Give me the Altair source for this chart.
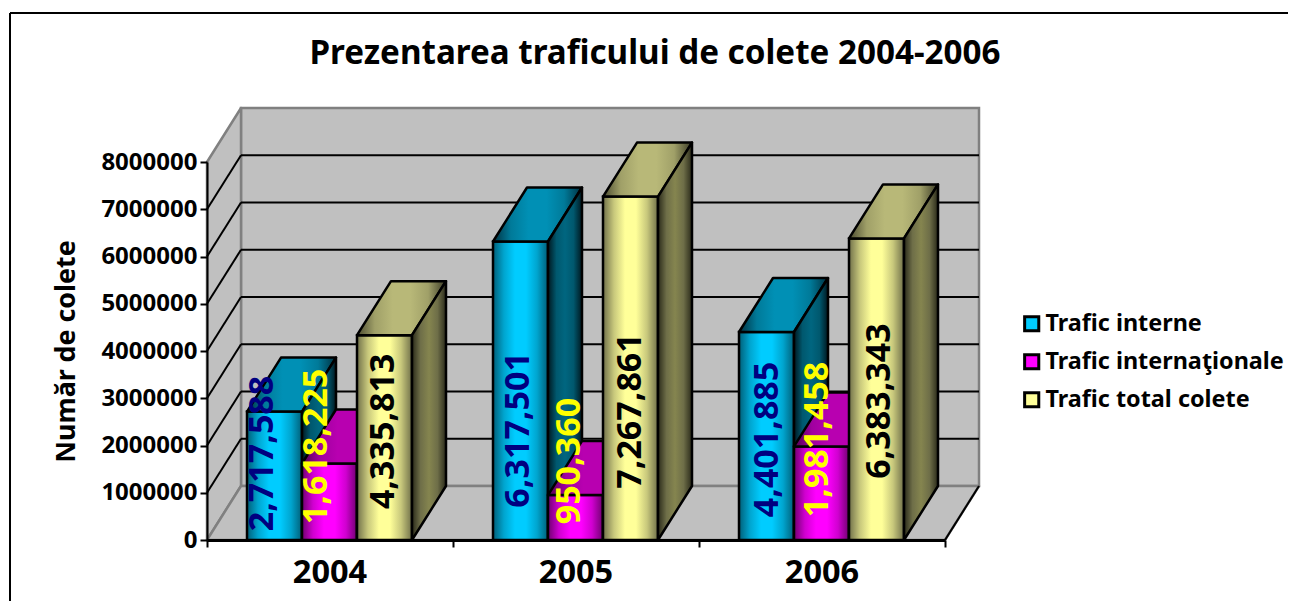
import altair as alt
import pandas as pd

years = ["2004", "2005", "2006"]
series = ["Trafic interne", "Trafic internaţionale", "Trafic total colete"]
interne = [2717588, 6317501, 4401885]
internationale = [1618225, 950360, 1981458]
total = [4335813, 7267861, 6383343]
y_ticks = [0, 1000000, 2000000, 3000000, 4000000, 5000000, 6000000, 7000000, 8000000]

# projection / layout
PX_CAT = 246.0
PX_VAL = 47.25 / 1e6
GAP = 40 / PX_CAT
BW = 55 / PX_CAT
DX = 34 / PX_CAT
DY = 54 / PX_VAL
FONT = "Noto Sans"
X_MAX = 3.0
Y_MAX = 8000000

xs = alt.Scale(domain=[0, X_MAX], nice=False, zero=False)
ys = alt.Scale(domain=[0, Y_MAX], nice=False, zero=True)
X_AXIS = alt.Axis(
    values=[0, 1, 2, 3], labels=False, grid=False, tickSize=7, tickWidth=2,
    tickColor="black", domainColor="black", domainWidth=3, zindex=1,
)
Y_AXIS = alt.Axis(
    values=y_ticks, format="d", grid=False, tickSize=7, tickWidth=2,
    tickColor="black", domainColor="black", domainWidth=2, zindex=1,
    labelFont=FONT, labelFontWeight="bold", labelFontSize=24, labelColor="black",
    labelPadding=3, titleFont=FONT, titleFontWeight="bold", titleFontSize=26.8,
    titleColor="black", titlePadding=20,
)
X = alt.X("x:Q", scale=xs, title=None, axis=X_AXIS)
Y = alt.Y("y:Q", scale=ys, title="Număr de colete", axis=Y_AXIS)
X2 = alt.X2("x2:Q")
Y2 = alt.Y2("y2:Q")


def grad(*colors):
    n = len(colors) - 1
    return dict(
        gradient="linear", x1=0, x2=1, y1=0, y2=0,
        stops=[dict(offset=i / n, color=c) for i, c in enumerate(colors)],
    )


def box(rows, fill, stroke="black", sw=2.5):
    return alt.Chart(pd.DataFrame(rows)).mark_rect(
        fill=fill, stroke=stroke, strokeWidth=sw, clip=False
    ).encode(x=X, x2=X2, y=Y, y2=Y2)


def poly(rows, fill, stroke="black", sw=2.5):
    return alt.Chart(pd.DataFrame(rows)).mark_area(
        fill=fill, stroke=stroke, strokeWidth=sw, clip=False, interpolate="linear",
        strokeJoin="round"
    ).encode(x=X, y=Y, y2=Y2)


def side_rows(x0, v_lo, v_hi):
    return [
        dict(x=x0, y=v_lo, y2=v_hi),
        dict(x=x0 + DX, y=v_lo + DY, y2=v_hi + DY),
    ]


def top_rows(x0, w, v):
    return [
        dict(x=x0, y=v, y2=v),
        dict(x=x0 + DX, y=v, y2=v + DY),
        dict(x=x0 + w, y=v, y2=v + DY),
        dict(x=x0 + w + DX, y=v + DY, y2=v + DY),
    ]


layers = []

# legend carrier (hidden behind the back wall)
carrier = pd.DataFrame([dict(x=1.5, y=3000000, s=s) for s in series])
layers.append(
    alt.Chart(carrier).mark_point(filled=True, shape="square", size=10, opacity=1, clip=False).encode(
        x=X,
        y=Y,
        color=alt.Color(
            "s:N",
            sort=series,
            scale=alt.Scale(domain=series, range=["#00CCFF", "#FF00FF", "#FFFF99"]),
            legend=alt.Legend(
                orient="none", legendX=813, legendY=150, title=None, symbolType="square",
                symbolSize=200, symbolStrokeColor="black", symbolStrokeWidth=3,
                symbolOpacity=1, labelFont=FONT, labelFontWeight="bold", labelFontSize=23.4,
                labelColor="black", rowPadding=11, labelOffset=2, labelLimit=400,
            ),
        ),
    )
)

# chart walls and floor
WALL = "#C0C0C0"
EDGE = "#808080"
layers.append(box([dict(x=DX, x2=X_MAX + DX, y=DY, y2=Y_MAX + DY)], WALL, EDGE))
layers.append(poly(side_rows(0, 0, Y_MAX), WALL, EDGE))
layers.append(poly(top_rows(0, X_MAX, 0), WALL, EDGE))

# grid on the back wall and the side wall
grid_back = pd.DataFrame([dict(x=DX, x2=X_MAX + DX, y=v + DY) for v in y_ticks[1:-1]])
layers.append(
    alt.Chart(grid_back).mark_rule(color="black", strokeWidth=2, clip=False).encode(x=X, x2=X2, y=Y)
)
grid_side = pd.DataFrame(
    [dict(k=v, x=o * DX, y=v + o * DY) for v in y_ticks[1:-1] for o in (0, 1)]
)
layers.append(
    alt.Chart(grid_side).mark_line(color="black", strokeWidth=2, clip=False).encode(
        x=X, y=Y, detail="k:N"
    )
)
floor_edge = pd.DataFrame([dict(x=X_MAX + o * DX, y=o * DY) for o in (0, 1)])
layers.append(
    alt.Chart(floor_edge).mark_line(color="black", strokeWidth=2, clip=False).encode(x=X, y=Y)
)

# bars: front, top, side of every series, left to right
styles = [
    dict(
        front=grad("#005F78", "#00A5CF", "#00CCFF", "#00CCFF", "#00A5CF", "#005F78"),
        top=grad("#00303F", "#007A99", "#0090B5", "#0090B5", "#007A99", "#00303F"),
        side=grad("#001820", "#00586E", "#006680", "#00586E", "#001820"),
    ),
    dict(
        front=grad("#700070", "#D000D0", "#FF00FF", "#FF00FF", "#D000D0", "#700070"),
        top=grad("#500050", "#A000A0", "#B800B0", "#B800B0", "#A000A0", "#500050"),
        side=grad("#280028", "#800080", "#900090", "#800080", "#280028"),
    ),
    dict(
        front=grad("#70704A", "#C8C87C", "#FFFF99", "#FFFF99", "#C8C87C", "#70704A"),
        top=grad("#4A4A30", "#A0A068", "#B8B878", "#B8B878", "#A0A068", "#3A3A26"),
        side=grad("#2A2A1A", "#6E6E48", "#85854F", "#6E6E48", "#2A2A1A"),
    ),
]
values = [interne, internationale, total]
for s, vals in enumerate(values):
    front, faces = [], []
    for i, v in enumerate(vals):
        x0 = i + GAP + s * BW
        front.append(dict(x=x0, x2=x0 + BW, y=0, y2=v))
        faces.append(poly(top_rows(x0, BW, v), styles[s]["top"]))
        faces.append(poly(side_rows(x0 + BW, 0, v), styles[s]["side"]))
    layers.append(box(front, styles[s]["front"]))
    layers.extend(faces)

# rotated data labels: offset from the bar centre (px) and height of the label's middle
label_colors = ["#000080", "#FFFF00", "#000000"]
label_dx = [
    [-12, -12.5, -1],
    [-1.5, -5.5, 0],
    [1.5, -3.5, 3.5],
]
label_mid = [
    [1830000, 1980000, 2300000],
    [2330000, 1670000, 2730000],
    [2127000, 2127000, 2940000],
]
for s, vals in enumerate(values):
    rows = [
        dict(x=i + GAP + (s + 0.5) * BW + label_dx[i][s] / PX_CAT, y=label_mid[i][s], v=v)
        for i, v in enumerate(vals)
    ]
    layers.append(
        alt.Chart(pd.DataFrame(rows)).mark_text(
            angle=270, font=FONT, fontWeight="bold", fontSize=34, color=label_colors[s],
            align="center", baseline="middle", clip=False,
        ).encode(x=X, y=Y, text=alt.Text("v:Q", format=","))
    )

# category labels below the axis
cat = pd.DataFrame([dict(x=i + 0.5, y=0, t=t) for i, t in enumerate(years)])
layers.append(
    alt.Chart(cat).mark_text(
        font=FONT, fontWeight="bold", fontSize=32.5, color="black", align="center",
        baseline="middle", dy=33, clip=False,
    ).encode(x=X, y=Y, text="t:N")
)

# chart-area frame (left and top edges; the rest runs off the page)
frame = pd.DataFrame([dict(a=0)])
layers.append(
    alt.Chart(frame).mark_rule(color="black", strokeWidth=2).encode(
        x=alt.value(-197), x2=alt.value(1100), y=alt.value(-149)
    )
)
layers.append(
    alt.Chart(frame).mark_rule(color="black", strokeWidth=2).encode(
        x=alt.value(-197), y=alt.value(-149), y2=alt.value(439)
    )
)

# chart title
layers.append(
    alt.Chart(pd.DataFrame([dict(t="Prezentarea traficului de colete 2004-2006")])).mark_text(
        font=FONT, fontWeight="bold", fontSize=33.2, color="black", align="center", baseline="middle",
    ).encode(x=alt.value(448), y=alt.value(-108), text="t:N")
)

chart = (
    alt.layer(*layers)
    .properties(
        width=738,
        height=378,
        padding=dict(left=199, top=154, right=343, bottom=61),
        autosize=alt.AutoSizeParams(type="none"),
        background="white",
    )
    .configure_view(stroke=None)
)

chart.save("out.html", embed_options={"renderer": "svg", "actions": False})
